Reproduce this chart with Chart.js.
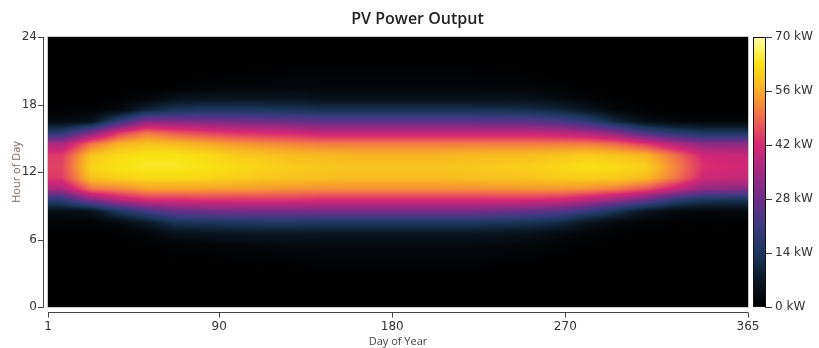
<!DOCTYPE html>
<html>
<head>
<meta charset="utf-8">
<script src="https://cdn.jsdelivr.net/npm/chart.js@4"></script>
<style>
  html, body { margin: 0; padding: 0; background: #fff; }
  canvas { display: block; }
</style>
</head>
<body>
<canvas id="pv-chart" width="819" height="348"></canvas>
<script>
// half-month periods, first day of each (day of year)
const periodStart = [1, 16, 32, 46, 60, 75, 91, 106, 121, 136, 152, 167,
                     182, 197, 213, 228, 244, 259, 274, 289, 305, 320, 335, 350];
const lastDay = 365;

// average PV output in kW, hour 0..23, one row per period
const hourlyKW = [
  [0,0,0,0,0,0,0.2,1,4,18,36,44,45,44,36,17,3,0.5,0,0,0,0,0,0],              // Jan 1-15
  [0,0,0,0,0,0,0.2,1,5,30,50,59,61,59,50,30,5,1,0,0,0,0,0,0],                // Jan 16-31
  [0,0,0,0,0,0,0.5,3,15,38,52,61,63,62,57,44,20,3,0.5,0,0,0,0,0],            // Feb 1-14
  [0,0,0,0,0,0.3,1.5,7,22,42,55,62,64,63,59,50,32,10,2,0.3,0,0,0,0],         // Feb 15-28
  [0,0,0,0,0.3,1,5,13,27,42,55,62,64,63,58,47,31,14,5,0.5,0,0,0,0],          // Mar 1-15
  [0,0,0,0,0.5,1.5,5.5,14,28,43,55,61.5,63,62,56,45,30,15,6,1.5,0.3,0,0,0],  // Mar 16-31
  [0,0,0,0,0.7,2,6,15,29,43,54.5,60.5,62,60,54,43,29,15,6,2,0.5,0,0,0],      // Apr 1-15
  [0,0,0,0.2,1,2.5,6.5,15.5,29,43,54,59.5,61,59,53,42,28,14.5,6,2,0.8,0.2,0,0],
  [0,0,0,0.3,1.2,3,6.5,15.5,29,43,53.5,59,60,58,52,41,27,14,6,2.5,1,0.3,0,0],
  [0,0,0,0.5,1.5,3,6,15,29,42,53,58.5,59.5,57.5,51,39,26,13,5,2,1,0.3,0,0],
  [0,0,0,0.5,1.5,3,6,15,29,42,53,58,59,57,51,39,26,13,5,2,1,0.3,0,0],        // Jun 1-15
  [0,0,0,0.5,1.5,3,6,15,29,42,53,58,59,57,51,39,26,13,5,2,1,0.3,0,0],
  [0,0,0,0.5,1.5,3,6,15,29,42,53,58,59,57,51,39,26,13,5,2,1,0.3,0,0],        // Jul 1-15
  [0,0,0,0.5,1.5,3,6,15,29,42,53,58,59,57,51,39,26,13,5,2,1,0.3,0,0],
  [0,0,0,0.5,1.5,3,6,15,29,42,53,58.5,59.5,57.5,51,39,26,13,5,2,1,0.3,0,0],  // Aug 1-15
  [0,0,0,0.3,1.2,2.5,5.5,14,28,42,53.5,59,60,58,51,39,25.5,12.5,5,1.8,0.8,0.2,0,0],
  [0,0,0,0,0.8,2,5,13,27,42,54,59,60.5,58,51,39,25,12,4.5,1.5,0.5,0,0,0],    // Sep 1-15
  [0,0,0,0,0.3,1,3.5,11,25,41,54,60,61.5,59,51,38,23,10,3.5,1,0,0,0,0],
  [0,0,0,0,0,0.3,1.5,6,20,38,53,60.5,62.5,60,51,36,19,6,1.5,0,0,0,0,0],      // Oct 1-15
  [0,0,0,0,0,0,0.5,2.5,13,33,51,60,62,59,49,31,10,2,0.3,0,0,0,0,0],
  [0,0,0,0,0,0,0.3,1,6,27,47,58,60.5,57,44,22,4,0.5,0,0,0,0,0,0],            // Nov 1-15
  [0,0,0,0,0,0,0,0.5,3,18,40,51,52,50,37,17,2,0,0,0,0,0,0,0],
  [0,0,0,0,0,0,0,0.3,2,14,33,41,43,41,32,14,1.5,0,0,0,0,0,0,0],              // Dec 1-15
  [0,0,0,0,0,0,0,0.5,2.5,13,32,40,41.5,40,32,14,1.5,0,0,0,0,0,0,0]
];

const dayTicks = [1, 90, 180, 270, 365];
const hourTicks = [0, 6, 12, 18, 24];
const powerTicks = [0, 14, 28, 42, 56, 70];

// colour scale (kW -> rgb)
const colorStops = [0, 7, 14, 21, 28, 35, 42, 49, 56, 63, 70];
const stopColors = [
  [0, 0, 0], [11, 24, 38], [28, 54, 92], [60, 58, 128], [108, 46, 134], [163, 40, 128],
  [214, 40, 116], [240, 104, 78], [248, 172, 38], [249, 226, 18], [255, 255, 170]
];

function colorFor(v) {
  if (v <= colorStops[0]) return stopColors[0];
  for (let i = 1; i < colorStops.length; i++) {
    if (v <= colorStops[i]) {
      const t = (v - colorStops[i - 1]) / (colorStops[i] - colorStops[i - 1]);
      const a = stopColors[i - 1], b = stopColors[i];
      return [a[0] + (b[0] - a[0]) * t, a[1] + (b[1] - a[1]) * t, a[2] + (b[2] - a[2]) * t];
    }
  }
  return stopColors[stopColors.length - 1];
}

const periodCenters = periodStart.map((s, i) => {
  const next = i + 1 < periodStart.length ? periodStart[i + 1] : lastDay + 1;
  return (s + next - 1) / 2;
});

function columnAt(day) {
  const n = periodCenters.length;
  if (day <= periodCenters[0]) return [0, 0, 0];
  if (day >= periodCenters[n - 1]) return [n - 1, n - 1, 0];
  let k = 0;
  while (periodCenters[k + 1] < day) k++;
  return [k, k + 1, (day - periodCenters[k]) / (periodCenters[k + 1] - periodCenters[k])];
}

const cells = [];
hourlyKW.forEach((row, k) => row.forEach((v, hr) => {
  cells.push({ x: periodCenters[k], y: hr + 0.5, v: v });
}));

const heatmapPlugin = {
  id: 'heatmap',
  beforeDatasetsDraw(chart) {
    const { ctx, chartArea: area, scales } = chart;
    const left = Math.round(area.left), top = Math.round(area.top);
    const w = Math.round(area.right) - left, h = Math.round(area.bottom) - top;
    const img = ctx.createImageData(w, h);
    const cols = [];
    for (let px = 0; px < w; px++) cols.push(columnAt(scales.x.getValueForPixel(left + px + 0.5)));
    for (let py = 0; py < h; py++) {
      const r = Math.min(Math.max(scales.y.getValueForPixel(top + py + 0.5) - 0.5, 0), 23);
      const r0 = Math.floor(r), r1 = Math.min(r0 + 1, 23), tr = r - r0;
      for (let px = 0; px < w; px++) {
        const [c0, c1, tc] = cols[px];
        const a = hourlyKW[c0][r0] * (1 - tc) + hourlyKW[c1][r0] * tc;
        const b = hourlyKW[c0][r1] * (1 - tc) + hourlyKW[c1][r1] * tc;
        const rgb = colorFor(a * (1 - tr) + b * tr);
        const i = (py * w + px) * 4;
        img.data[i] = rgb[0];
        img.data[i + 1] = rgb[1];
        img.data[i + 2] = rgb[2];
        img.data[i + 3] = 255;
      }
    }
    ctx.putImageData(img, left, top);
  },
  afterDraw(chart) {
    const { ctx, chartArea: area, scales } = chart;
    ctx.save();
    ctx.lineWidth = 1;

    // plot frame
    ctx.strokeStyle = '#c8c8c8';
    ctx.strokeRect(area.left - 0.5, area.top - 0.5, area.right - area.left + 1, area.bottom - area.top + 1);

    // left axis line + ticks
    ctx.strokeStyle = '#444';
    ctx.beginPath();
    ctx.moveTo(43.5, scales.y.getPixelForValue(24));
    ctx.lineTo(43.5, scales.y.getPixelForValue(0) + 0.5);
    hourTicks.forEach(v => {
      const yy = Math.round(scales.y.getPixelForValue(v)) + 0.5;
      ctx.moveTo(38, yy);
      ctx.lineTo(43.5, yy);
    });
    // bottom axis line + ticks
    const by = Math.round(area.bottom) + 5.5;
    ctx.moveTo(scales.x.getPixelForValue(1), by);
    ctx.lineTo(scales.x.getPixelForValue(365), by);
    dayTicks.forEach(v => {
      const xx = Math.round(scales.x.getPixelForValue(v)) + 0.5;
      ctx.moveTo(xx, by);
      ctx.lineTo(xx, by + 5);
    });
    ctx.stroke();

    // colour bar
    const p = scales.power;
    const y0 = p.getPixelForValue(0), y1 = p.getPixelForValue(70);
    const bx = area.right + 5, bw = 13;
    const grad = ctx.createLinearGradient(0, y0, 0, y1);
    colorStops.forEach((s, i) => {
      const c = stopColors[i];
      grad.addColorStop(s / 70, `rgb(${c[0]},${c[1]},${c[2]})`);
    });
    ctx.fillStyle = grad;
    ctx.fillRect(bx, y1, bw, y0 - y1);
    ctx.strokeStyle = '#111';
    ctx.strokeRect(bx + 0.5, y1 + 0.5, bw - 1, y0 - y1 - 1);
    ctx.strokeStyle = '#333';
    ctx.beginPath();
    powerTicks.forEach(v => {
      const yy = Math.round(p.getPixelForValue(v)) + 0.5;
      ctx.moveTo(bx + bw - 1, yy);
      ctx.lineTo(bx + bw + 6, yy);
    });
    ctx.stroke();
    ctx.restore();
  }
};

const tickFont = { family: 'DejaVu Sans', size: 12 };
const noGrid = { display: false, drawTicks: false };

const chart = new Chart(document.getElementById('pv-chart'), {
  type: 'scatter',
  data: {
    datasets: [{ data: cells, pointRadius: 0, pointHoverRadius: 0 }]
  },
  options: {
    responsive: false,
    animation: false,
    events: [],
    layout: { padding: { left: 16, top: 0, right: 0, bottom: 0 } },
    plugins: {
      legend: { display: false },
      tooltip: { enabled: false },
      title: {
        display: true,
        text: 'PV Power Output',
        color: '#222',
        font: { family: 'Open Sans', size: 16, weight: '600' },
        padding: { top: 9.4, bottom: 8.4 }
      }
    },
    scales: {
      x: {
        type: 'linear', min: 1, max: 365,
        afterBuildTicks: s => { s.ticks = dayTicks.map(v => ({ value: v })); },
        afterFit: s => { s.height = 41; },
        grid: noGrid, border: { display: false },
        ticks: { font: tickFont, color: '#333', padding: 13, maxRotation: 0, autoSkip: false },
        title: { display: true, text: 'Day of Year', color: '#444',
                 font: { family: 'Open Sans', size: 11 }, padding: { top: 0, bottom: 0 } }
      },
      y: {
        type: 'linear', min: 0, max: 24,
        afterBuildTicks: s => { s.ticks = hourTicks.map(v => ({ value: v })); },
        afterFit: s => { s.width = 32; },
        grid: noGrid, border: { display: false },
        ticks: { font: tickFont, color: '#333', padding: 11 },
        title: { display: true, text: 'Hour of Day', color: '#7d6b5e',
                 font: { family: 'Open Sans', size: 11 }, padding: { top: -6, bottom: 0 } }
      },
      power: {
        type: 'linear', position: 'right', min: 0, max: 70,
        afterBuildTicks: s => { s.ticks = powerTicks.map(v => ({ value: v })); },
        afterFit: s => { s.width = 71; },
        grid: noGrid, border: { display: false },
        ticks: { font: tickFont, color: '#333', padding: 27, callback: v => v + ' kW' }
      }
    }
  },
  plugins: [heatmapPlugin]
});
</script>
</body>
</html>
